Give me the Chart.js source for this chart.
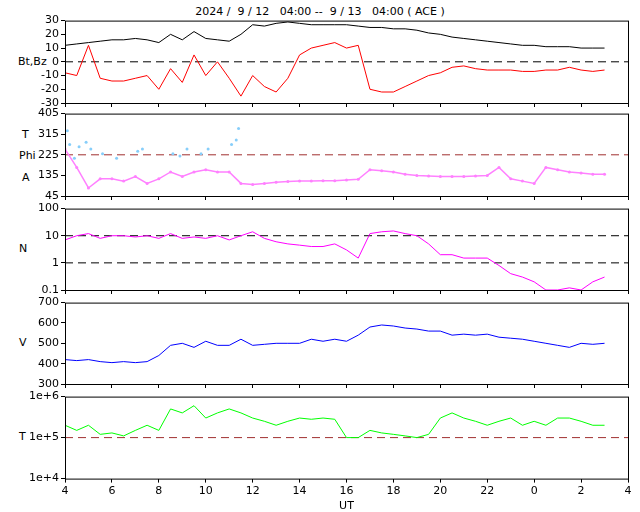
<!DOCTYPE html>
<html><head><meta charset="utf-8">
<script src="https://cdn.jsdelivr.net/npm/chart.js@4/dist/chart.umd.min.js"></script>
<style>
body{margin:0;background:#fff;width:640px;height:512px;position:relative;overflow:hidden;font-family:"DejaVu Sans",sans-serif}
canvas{position:absolute;left:0}
.lb{position:absolute;font-size:11px;color:#000}
</style></head><body>
<div class="lb" style="left:0;width:640px;text-align:center;top:5px">2024 /&nbsp; 9 / 12&nbsp;&nbsp; 04:00 -- &nbsp;9 / 13&nbsp;&nbsp; 04:00 ( ACE )</div>
<div class="lb" style="left:18px;top:55px">Bt,Bz</div>
<div class="lb" style="left:22px;top:128px">T</div>
<div class="lb" style="left:19px;top:149px">Phi</div>
<div class="lb" style="left:22px;top:171px">A</div>
<div class="lb" style="left:19px;top:242px">N</div>
<div class="lb" style="left:19px;top:336px">V</div>
<div class="lb" style="left:19px;top:430px">T</div>
<canvas id="c1"></canvas><canvas id="c2"></canvas><canvas id="c3"></canvas><canvas id="c4"></canvas><canvas id="c5"></canvas>
<script>
const hours=[4,4.5,5,5.5,6,6.5,7,7.5,8,8.5,9,9.5,10,10.5,11,11.5,12,12.5,13,13.5,14,14.5,15,15.5,16,16.5,17,17.5,18,18.5,19,19.5,20,20.5,21,21.5,22,22.5,23,23.5,24,24.5,25,25.5,26,26.5,27];
const bt=[12,13,14,15,16,16,17,16,14,20,16,22,17,16,15,20,27,26,28,29,28,27,27,27,27,26,25,25,24,24,23,21,20,18,17,16,15,14,13,12,12,11,11,11,10,10,10];
const bz=[-8,-10,12,-12,-14,-14,-12,-10,-20,-5,-15,5,-10,0,-12,-25,-10,-18,-22,-12,5,10,12,14,10,12,-20,-22,-22,-18,-14,-10,-8,-4,-3,-5,-6,-6,-6,-7,-7,-6,-6,-4,-6,-7,-6];
const phiT=[4.1,4.2,4.4,4.6,4.9,5.1,5.6,6.2,7.1,7.3,8.6,8.9,9.2,9.8,10.1,11.1,11.3,11.4];
const phiV=[330,270,210,260,280,250,230,210,240,250,230,220,250,230,250,270,290,340];
const theta=[250,170,80,120,120,110,130,100,120,150,130,150,160,150,150,100,95,100,105,108,110,110,112,112,115,118,160,155,150,140,135,132,130,130,130,132,135,170,120,110,100,170,160,150,145,140,140];
const dens=[7,10,12,8,10,10,9,10,8,12,8,9,8,10,7,10,14,8,6,5,4.5,4,4,5,3,1.5,12,14,15,12,10,5,2,2,1.5,1.5,1.5,0.8,0.4,0.3,0.2,0.1,0.1,0.12,0.1,0.2,0.3];
const vel=[420,415,420,410,405,410,405,410,440,490,500,480,510,490,490,520,490,495,500,500,500,520,510,520,510,540,580,590,585,575,570,560,560,540,545,540,545,530,525,520,510,500,490,480,500,495,500];
const temp=[2e5,1.5e5,2e5,1.2e5,1.3e5,1.1e5,1.5e5,2e5,1.5e5,5e5,4e5,6e5,3e5,4e5,5e5,4e5,3e5,2.5e5,2e5,2.5e5,3e5,2.8e5,3e5,2.8e5,1e5,1e5,1.5e5,1.3e5,1.2e5,1.1e5,1e5,1.2e5,3e5,4e5,3e5,2.5e5,2e5,2.5e5,3e5,2e5,2.5e5,2e5,3e5,3e5,2.5e5,2e5,2e5];
const xTicks=[4,6,8,10,12,14,16,18,20,22,24,26,28];
Chart.defaults.font.family='"DejaVu Sans",sans-serif';Chart.defaults.font.size=11;Chart.defaults.color='#000';
const pts=(xs,ys)=>xs.map((x,i)=>({x,y:ys[i]}));
const border={id:'border',afterDraw(c){const a=c.chartArea,g=c.ctx;g.save();g.strokeStyle='#000';g.lineWidth=1;g.strokeRect(a.left+.5,a.top+.5,a.right-a.left,a.bottom-a.top);g.restore();}};
function hl(v,col){return {type:'line',data:[{x:4,y:v},{x:28,y:v}],borderColor:col,borderWidth:1,borderDash:[8,5],pointRadius:0,order:9};}
function make(id,top,h,bottom,datasets,y){
 const cv=document.getElementById(id);cv.style.top=top+'px';cv.width=640;cv.height=h;cv.style.width='640px';cv.style.height=h+'px';
 new Chart(cv,{type:'line',data:{datasets},plugins:[border],options:{animation:false,responsive:false,devicePixelRatio:1,layout:{padding:{top:8,right:12,bottom:bottom?0:8,left:0}},plugins:{legend:{display:false},tooltip:{enabled:false}},
 scales:{x:{type:'linear',min:4,max:28,afterBuildTicks:s=>{s.ticks=xTicks.map(v=>({value:v}))},grid:{drawOnChartArea:false,tickLength:4,color:'#000'},border:{display:false},
 ticks:{display:bottom,autoSkip:false,callback:v=>String(v%24),maxRotation:0,padding:2},title:{display:bottom,text:'UT',padding:0},afterFit:s=>{if(!bottom)s.height=4;}},
 y:Object.assign({grid:{drawOnChartArea:false,tickLength:4,color:'#000'},border:{display:false},afterFit:s=>{s.width=65}},y)}}});
}
const line=(d,c)=>({data:d,borderColor:c,borderWidth:1,pointRadius:0,tension:0});
const tk=(arr,cb)=>({afterBuildTicks:s=>{s.ticks=arr.map(v=>({value:v}))},ticks:{padding:2,autoSkip:false,callback:cb||(v=>String(v))}});
make('c1',12,103,false,[hl(0,'#000'),line(pts(hours,bt),'#000'),line(pts(hours,bz),'#f00')],Object.assign({min:-30,max:30},tk([-30,-20,-10,0,10,20,30])));
make('c2',105,103,false,[hl(225,'#a03030'),{data:pts(phiT,phiV),showLine:false,pointRadius:1.5,pointBackgroundColor:'#87cefa',pointBorderWidth:0},{data:pts(hours,theta),borderColor:'#ff80ff',borderWidth:1.5,pointRadius:1.5,pointBackgroundColor:'#ff80ff',pointBorderWidth:0}],Object.assign({min:45,max:405},tk([45,135,225,315,405])));
make('c3',200,102,false,[hl(10,'#000'),hl(1,'#000'),line(pts(hours,dens),'#f0f')],Object.assign({type:'logarithmic',min:0.1,max:100},tk([0.1,1,10,100])));
make('c4',294,102,false,[line(pts(hours,vel),'#00f')],Object.assign({min:300,max:700},tk([300,400,500,600,700])));
make('c5',388,125,true,[hl(1e5,'#a03030'),line(pts(hours,temp),'#0f0')],Object.assign({type:'logarithmic',min:1e4,max:1e6},tk([1e4,1e5,1e6],v=>'1e+'+Math.round(Math.log10(v)))));
</script></body></html>
